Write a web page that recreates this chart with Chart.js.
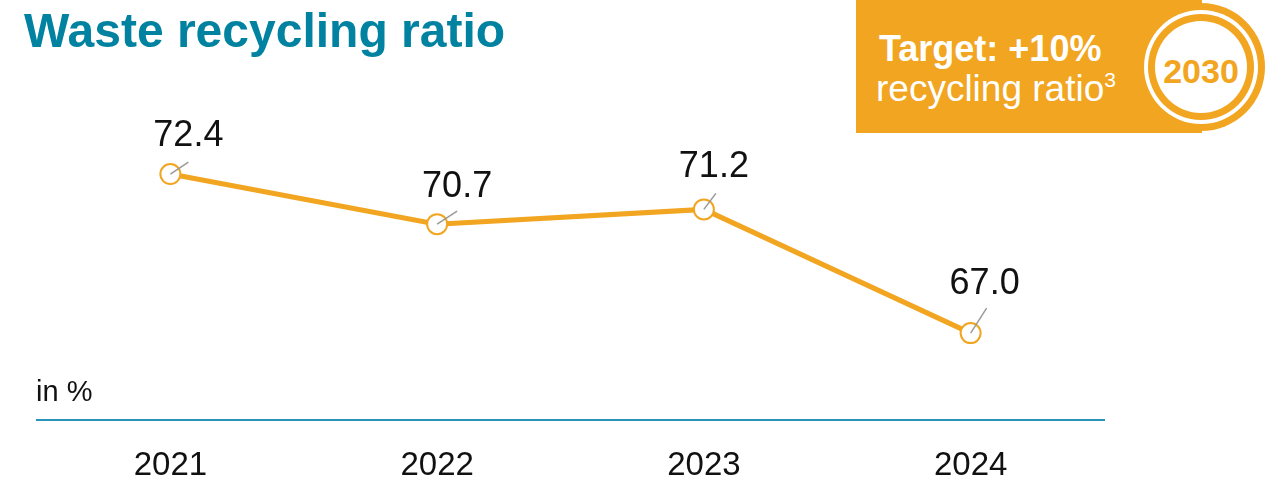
<!DOCTYPE html>
<html>
<head>
<meta charset="utf-8">
<script src="https://cdn.jsdelivr.net/npm/chart.js@4"></script>
<style>
  body { margin: 0; background: #fff; font-family: 'Liberation Sans', Arial, sans-serif; }
  #wrap { position: relative; width: 1285px; height: 483px; overflow: hidden; }
  #myChart { position: absolute; left: 0; top: 0; }
  .txt { position: absolute; line-height: 1; white-space: nowrap; }
  .ring { position: absolute; border-radius: 50%; }
</style>
</head>
<body>
<div id="wrap">
  <canvas id="myChart" width="1285" height="483"></canvas>
  <div class="txt" style="left:24px; top:7px; font-size:48px; font-weight:bold; color:#0082a0;">Waste recycling ratio</div>
  <div class="txt" style="left:36px; top:377px; font-size:29px; color:#111;">in %</div>

  <!-- target badge -->
  <div style="position:absolute; left:856px; top:0; width:346px; height:133px; background:#f1a520;"></div>
  <div class="ring" style="left:1137px; top:3px; width:128px; height:128px; background:#f1a520;"></div>
  <div class="ring" style="left:1144px; top:10px; width:114px; height:114px; background:#fff;"></div>
  <div class="ring" style="left:1148px; top:14px; width:106px; height:106px; background:#f1a520;"></div>
  <div class="ring" style="left:1155px; top:21px; width:92px; height:92px; background:#fff;"></div>
  <div class="txt" style="left:1151px; top:54px; width:100px; text-align:center; font-size:34px; font-weight:bold; color:#f1a520;">2030</div>
  <div class="txt" style="left:879px; top:31px; font-size:36px; font-weight:bold; color:#fff;">Target: +10%</div>
  <div class="txt" style="left:876px; top:69px; font-size:37px; color:#fff;">recycling ratio<sup style="font-size:21px; vertical-align:14px;">3</sup></div>
</div>
<script>
var years = ['2021', '2022', '2023', '2024'];
var ratio = [72.4, 70.7, 71.2, 67.0];

var orange = '#f1a520';

// label placement relative to each point (PowerPoint-style callouts)
var labelShift = [[18, -38], [20, -37], [10, -42], [14, -49]];
var leaderEnd = [[18, -12], [20, -13], [12, -16], [16, -25]];

var calloutLabels = {
    id: 'calloutLabels',
    afterDatasetsDraw: function(chart) {
        var c = chart.ctx;
        var pts = chart.getDatasetMeta(0).data;
        c.save();
        pts.forEach(function(p, i) {
            c.strokeStyle = '#9a9a9a';
            c.lineWidth = 1.5;
            c.beginPath();
            c.moveTo(p.x, p.y);
            c.lineTo(p.x + leaderEnd[i][0], p.y + leaderEnd[i][1]);
            c.stroke();
            c.fillStyle = '#111';
            c.font = '36px "Liberation Sans", Arial, sans-serif';
            c.textAlign = 'center';
            c.textBaseline = 'middle';
            c.fillText(ratio[i].toFixed(1), p.x + labelShift[i][0], p.y + labelShift[i][1]);
        });
        c.restore();
    }
};

var ctx = document.getElementById('myChart').getContext('2d');
var myChart = new Chart(ctx, {
    type: 'line',
    data: {
        labels: years,
        datasets: [{
            data: ratio,
            borderColor: orange,
            borderWidth: 5,
            pointRadius: 10,
            pointBorderWidth: 2,
            pointBackgroundColor: '#fff',
            pointBorderColor: orange,
            fill: false,
            tension: 0,
            clip: false
        }]
    },
    options: {
        responsive: false,
        animation: false,
        layout: {
            padding: { left: 37, right: 181, top: 96, bottom: 0 }
        },
        plugins: {
            legend: { display: false },
            tooltip: { enabled: false }
        },
        scales: {
            x: {
                offset: true,
                grid: { display: false },
                border: { display: true, color: '#2a93b8', width: 2 },
                ticks: {
                    color: '#111',
                    padding: 18,
                    font: { size: 33, family: '"Liberation Sans", Arial, sans-serif' }
                },
                afterFit: function(scale) { scale.height = 63; }
            },
            y: {
                display: false,
                min: 64.05,
                max: 75.05
            }
        }
    },
    plugins: [calloutLabels]
});
</script>
</body>
</html>
